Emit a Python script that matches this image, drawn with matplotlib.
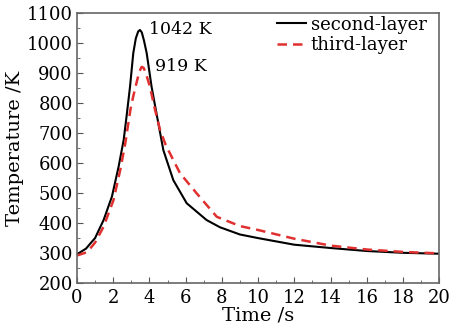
import matplotlib
matplotlib.use("Agg")
import matplotlib.pyplot as plt
from matplotlib.ticker import MultipleLocator

# values
t_second = [0, 0.5, 0.74, 1, 1.47, 1.93, 2.3, 2.58, 2.76, 2.93, 3.11, 3.25, 3.38, 3.48, 3.58, 3.7, 3.85, 4.12, 4.46,
            4.77, 5.32, 6.06, 7.16, 7.9, 9, 10, 12, 14, 16, 18, 20]
T_second = [296, 315, 332, 350, 410, 488, 588, 677, 766, 854, 966, 1015, 1038, 1043, 1035, 1008, 966, 854, 743,
            643, 543, 466, 410, 386, 362, 350, 328, 317, 307, 301, 298]
t_third = [0, 0.5, 0.74, 1, 1.47, 2.02, 2.39, 2.67, 2.95, 3.1, 3.3, 3.45, 3.57, 3.68, 3.8, 4.03, 4.3, 4.59, 4.9,
           5.69, 6.61, 7.72, 9, 10, 12, 14, 16, 18, 20]
T_third = [292, 302, 316, 335, 388, 477, 577, 666, 777, 820, 870, 905, 920, 917, 900, 854, 780, 710, 660,
           566, 499, 421, 390, 377, 348, 325, 312, 304, 299]

SERIF = "DejaVu Serif"
plt.rcParams["font.family"] = SERIF

fig = plt.figure(figsize=(4.5, 3.3), dpi=100)
ax = fig.add_axes([0.171, 0.142, 0.805, 0.819])

ax.plot(t_second, T_second, color="black", lw=1.5, label="second-layer")
ax.plot(t_third, T_third, color="#e03030", lw=1.8, ls=(0, (3.8, 2.4)), label="third-layer")

ax.set_xlim(0, 20)
ax.set_ylim(200, 1100)
ax.xaxis.set_major_locator(MultipleLocator(2))
ax.xaxis.set_minor_locator(MultipleLocator(1))
ax.yaxis.set_major_locator(MultipleLocator(100))
ax.yaxis.set_minor_locator(MultipleLocator(50))
ax.tick_params(which="both", direction="in", top=False, right=False, color="#555555")
ax.tick_params(which="major", length=4, labelsize=13)
ax.tick_params(axis="x", which="major", pad=4)
ax.tick_params(axis="y", which="major", pad=3)
ax.tick_params(which="minor", length=2)
for s in ax.spines.values():
    s.set_color("#666666")
    s.set_linewidth(1.2)

ax.set_xlabel("Time /s", fontsize=14, labelpad=0)
ax.set_ylabel("Temperature /K", fontsize=14, labelpad=2)

ax.text(4.0, 1043, "1042 K", fontsize=12.5, va="center")
ax.text(4.3, 920, "919 K", fontsize=12.5, va="center")

ax.legend(loc="upper right", bbox_to_anchor=(0.965, 0.99), frameon=False, prop={"size": 13},
          handlelength=1.6, handletextpad=0.25, labelspacing=0.15, borderpad=0, borderaxespad=0)

fig.savefig("out.png", dpi=100)
